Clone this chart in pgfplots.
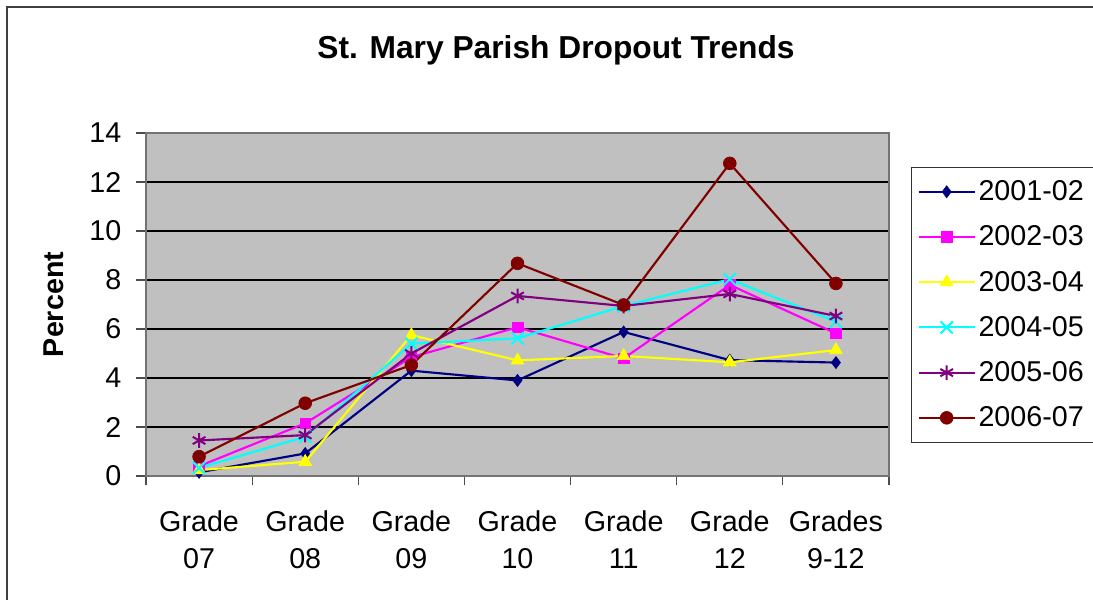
\documentclass[border=0pt]{standalone}
\usepackage{fontspec}
\setmainfont{Liberation Sans}
\usepackage{pgfplots}
\pgfplotsset{compat=1.18}
\usetikzlibrary{plotmarks}

\definecolor{cNavy}{HTML}{000080}
\definecolor{cMag}{HTML}{FF00FF}
\definecolor{cYel}{HTML}{FFFF00}
\definecolor{cCyan}{HTML}{00FFFF}
\definecolor{cPurp}{HTML}{800080}
\definecolor{cMaroon}{HTML}{800000}
\definecolor{plotbg}{HTML}{C0C0C0}

\begin{document}
\begin{tikzpicture}
\path[use as bounding box] (0,0) rectangle (819.75pt,450pt);
% outer chart frame (only left and top edges fall inside the picture)
\draw[line width=1.4pt, black!75] (5.25pt,-5pt) -- (5.25pt,444.75pt) -- (830pt,444.75pt);

\begin{axis}[
  at={(109.5pt,93pt)}, anchor=south west,
  scale only axis,
  width=557.25pt, height=257.25pt,
  xmin=-0.5, xmax=6.5,
  ymin=0, ymax=14,
  axis background/.style={fill=plotbg},
  axis line style={draw=black!55, line width=1.2pt},
  xtick={0,1,2,3,4,5,6},
  xticklabels={{Grade\\07},{Grade\\08},{Grade\\09},{Grade\\10},{Grade\\11},{Grade\\12},{Grades\\9-12}},
  minor xtick={-0.5,0.5,...,6.5},
  major x tick style={draw=none},
  minor x tick style={draw=black!70, line width=0.8pt},
  ytick={0,2,...,14},
  y tick style={draw=black!70, line width=0.8pt},
  tick align=outside,
  major tick length=7.5pt,
  minor tick length=7pt,
  xtick pos=bottom, ytick pos=left,
  ymajorgrids,
  major grid style={draw=black, line width=0.8pt},
  /pgf/number format/assume math mode=true,
  tick label style={font=\fontsize{21.5}{27.75}\selectfont},
  xticklabel style={align=center, yshift=-15pt},
  yticklabel style={xshift=-7.5pt},
  title={St. Mary Parish Dropout Trends},
  title style={font=\fontsize{23.8}{28}\selectfont\bfseries, at={(axis description cs:0.5518,1.195)}, anchor=base},
  ylabel={Percent},
  ylabel style={font=\fontsize{21.5}{26}\selectfont\bfseries, at={(axis description cs:-0.1238,0.5)}, rotate=0, anchor=center},
  legend cell align=left,
  legend style={at={(axis description cs:1.029,0.902)}, anchor=north west,
    draw=black!80, line width=0.8pt, fill=white,
    font=\fontsize{21.5}{26}\selectfont,
    inner xsep=5pt, inner ysep=8pt,
    row sep=13pt,
    nodes={inner sep=2.2pt}},
  legend image code/.code={\draw[mark repeat=2,mark phase=2,line width=1.6pt,#1] plot coordinates {(0pt,0pt) (20.9pt,0pt) (41.8pt,0pt)};},
]
\addplot[color=cNavy, line width=1.6pt, mark=diamond*, mark size=4.5pt, mark options={solid, fill=cNavy, line width=0.5pt}]
  coordinates {(0,0.15) (1,0.92) (2,4.30) (3,3.90) (4,5.88) (5,4.73) (6,4.63)};
\addlegendentry{2001-02}
\addplot[color=cMag, line width=1.6pt, mark=square*, mark size=4pt, mark options={solid, fill=cMag, line width=0.5pt}]
  coordinates {(0,0.40) (1,2.15) (2,4.85) (3,6.07) (4,4.80) (5,7.80) (6,5.82)};
\addlegendentry{2002-03}
\addplot[color=cYel, line width=1.6pt, mark=triangle*, mark size=5.5pt, mark options={solid, fill=cYel, line width=0.5pt}]
  coordinates {(0,0.24) (1,0.58) (2,5.75) (3,4.72) (4,4.90) (5,4.64) (6,5.14)};
\addlegendentry{2003-04}
\addplot[color=cCyan, line width=1.6pt, mark=x, mark size=6.5pt, mark options={solid, line width=1.5pt}]
  coordinates {(0,0.33) (1,1.60) (2,5.40) (3,5.62) (4,6.94) (5,8.03) (6,6.30)};
\addlegendentry{2004-05}
\addplot[color=cPurp, line width=1.6pt, mark=asterisk, mark size=5.5pt, mark options={solid, line width=1.5pt}]
  coordinates {(0,1.45) (1,1.67) (2,5.00) (3,7.35) (4,6.94) (5,7.43) (6,6.53)};
\addlegendentry{2005-06}
\addplot[color=cMaroon, line width=1.6pt, mark=*, mark size=4.8pt, mark options={solid, fill=cMaroon, line width=0.5pt}]
  coordinates {(0,0.79) (1,2.97) (2,4.53) (3,8.68) (4,6.98) (5,12.76) (6,7.86)};
\addlegendentry{2006-07}
\end{axis}
\end{tikzpicture}
\end{document}
